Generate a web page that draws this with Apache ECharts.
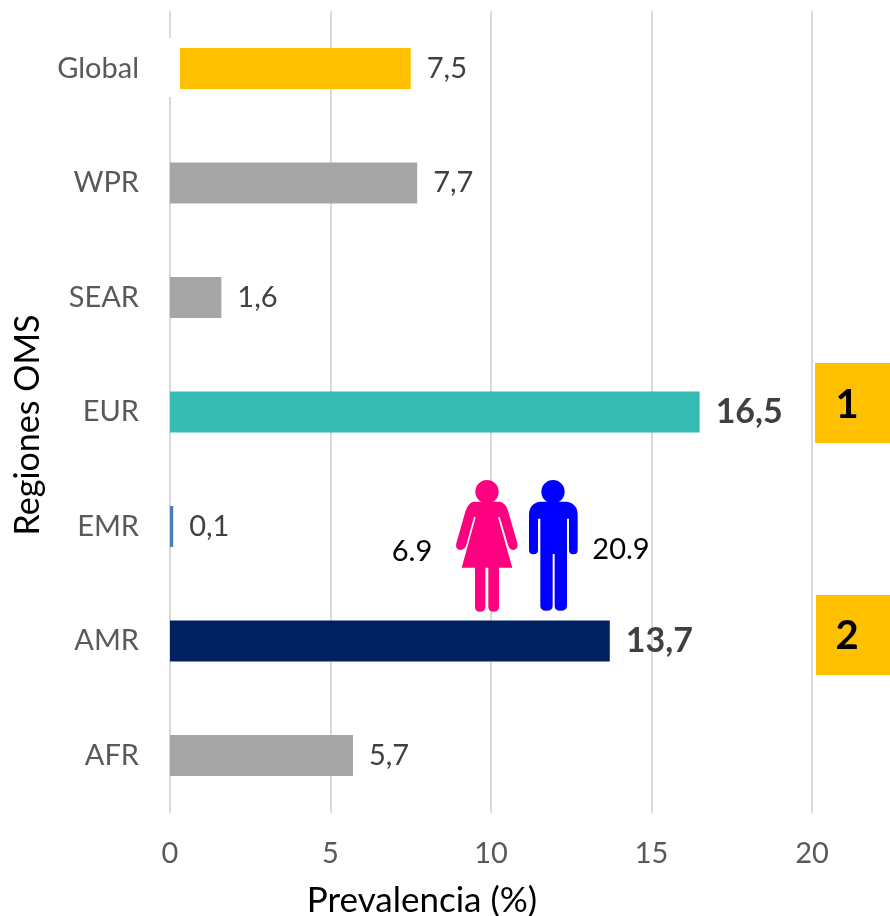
<!DOCTYPE html>
<html>
<head>
<meta charset="utf-8">
<style>html,body{margin:0;padding:0;background:#fff}#c{width:890px;height:916px}</style>
<script src="https://cdn.jsdelivr.net/npm/echarts@6/dist/echarts.min.js"></script>
</head>
<body>
<div id="c"></div>
<script>
const categories = ['AFR','AMR','EMR','EUR','SEAR','WPR','Global'];
const prevalence = [5.7,13.7,0.1,16.5,1.6,7.7,7.5];
const barColors = ['#A5A5A5','#002060','#4A7EBB','#36BBB2','#A5A5A5','#A5A5A5','#FFC000'];
const boldCategories = ['AMR','EUR'];
const xTicks = {min:0,max:20,interval:5};
const femaleValue = '6.9';
const maleValue = '20.9';
const FONT = 'Lato, "Open Sans", sans-serif';

const womanPath = 'M100,125 L180,125 Q197,128 205,155 L232,250 Q236,268 220,270 Q210,270 205,258 L179,170 L174,172 L217,323 L177,323 L177,440 Q177,455 160,455 Q146,455 145,440 L145,323 L136,323 L136,440 Q136,455 120,455 Q105,455 105,440 L105,323 L65,323 L107,172 L102,170 L78,258 Q72,270 60,270 Q45,268 49,250 L76,155 Q85,128 100,125 Z';
const manPath = 'M300,125 L380,125 Q413,130 413,165 L413,270 Q413,283 400,283 Q387,283 387,270 L387,176 L381,176 L381,437 Q381,452 361,452 Q344,452 344,437 L344,282 L338,282 L338,437 Q338,452 320,452 Q301,452 301,437 L301,176 L294,176 L294,270 Q294,283 280,283 Q267,283 267,270 L267,165 Q267,130 300,125 Z';

echarts.graphic.registerShape('womanIcon', echarts.graphic.extendPath(womanPath, {}));
echarts.graphic.registerShape('manIcon', echarts.graphic.extendPath(manPath, {}));

const chart = echarts.init(document.getElementById('c'), null, {renderer:'canvas'});
chart.setOption({
  animation:false,
  backgroundColor:'#fff',
  grid:{left:170,right:78,top:11.25,bottom:103.25,containLabel:false,outerBoundsMode:'none'},
  xAxis:{
    type:'value',min:xTicks.min,max:xTicks.max,interval:xTicks.interval,
    name:'Prevalencia (%)',nameLocation:'middle',nameGap:70,
    nameTextStyle:{fontFamily:FONT,fontSize:35,color:'#000',padding:[0,138,0,0]},
    axisLine:{show:false},axisTick:{show:false},
    axisLabel:{fontFamily:FONT,fontSize:29,color:'#595959',margin:26},
    splitLine:{show:true,lineStyle:{color:'#D9D9D9',width:2}}
  },
  yAxis:{
    type:'category',data:categories,
    name:'Regiones OMS',nameLocation:'middle',nameGap:125,
    nameTextStyle:{fontFamily:FONT,fontSize:34,color:'#000',padding:[0,26,0,0]},
    axisLine:{show:false},axisTick:{show:false},
    axisLabel:{fontFamily:FONT,fontSize:29,color:'#595959',margin:31}
  },
  series:[{
    type:'bar',barWidth:41,z:3,
    data:prevalence.map((v,i)=>{
      const bold = boldCategories.includes(categories[i]);
      return {
        value:v,
        itemStyle:{color:barColors[i]},
        label:{fontWeight:bold?'bold':'normal',fontSize:bold?34:29}
      };
    }),
    label:{
      show:true,position:'right',distance:16,
      fontFamily:FONT,color:'#404040',
      formatter:p=>String(p.value).replace('.',',')
    }
  }],
  graphic:[
    {type:'rect',z:50,shape:{x:150,y:38,width:30,height:59},style:{fill:'#fff'}},
    {type:'rect',z:50,shape:{x:815,y:363,width:75,height:80},style:{fill:'#FFC000'}},
    {type:'rect',z:50,shape:{x:816,y:595,width:74,height:80},style:{fill:'#FFC000'}},
    {type:'text',z:51,style:{x:847,y:405,text:'1',fontFamily:FONT,fontSize:40,fontWeight:'bold',fill:'#000',align:'center',verticalAlign:'middle'}},
    {type:'text',z:51,style:{x:847,y:636,text:'2',fontFamily:FONT,fontSize:40,fontWeight:'bold',fill:'#000',align:'center',verticalAlign:'middle'}},
    {type:'text',z:51,style:{x:412,y:552,text:femaleValue,fontFamily:FONT,fontSize:29,fill:'#000',align:'center',verticalAlign:'middle'}},
    {type:'text',z:51,style:{x:621,y:550,text:maleValue,fontFamily:FONT,fontSize:29,fill:'#000',align:'center',verticalAlign:'middle'}},
    {type:'group',z:50,x:440,y:460,scaleX:1/3,scaleY:1/3,children:[
      {type:'circle',z:50,shape:{cx:141,cy:95,r:35},style:{fill:'#FF0080'}},
      {type:'womanIcon',z:50,style:{fill:'#FF0080'}},
      {type:'circle',z:50,shape:{cx:339,cy:95,r:35},style:{fill:'#0000FF'}},
      {type:'manIcon',z:50,style:{fill:'#0000FF'}}
    ]}
  ]
});
</script>
</body>
</html>
